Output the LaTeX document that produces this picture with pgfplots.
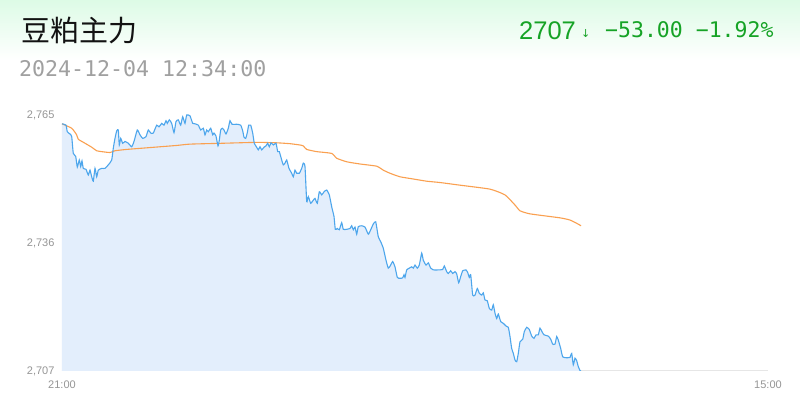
\documentclass[border=0pt]{standalone}
\usepackage{pgfplots}
\usepackage{pgfplotstable}
\pgfplotsset{compat=1.18}
\usepackage{fontspec}
\setmainfont{Liberation Sans}
\newfontfamily\cjk{Noto Sans CJK SC}
\newfontfamily\mono{DejaVu Sans Mono}
\newfontfamily\dejavu{DejaVu Sans}

\definecolor{topgreen}{RGB}{221,251,230}
\definecolor{upgreen}{RGB}{22,163,38}
\definecolor{dategray}{RGB}{160,160,160}
\definecolor{tickgray}{RGB}{150,150,150}
\definecolor{axisgray}{RGB}{230,230,230}
\definecolor{priceblue}{RGB}{77,166,236}
\definecolor{pricefill}{RGB}{227,238,252}
\definecolor{avgorange}{RGB}{250,160,80}

% x = sample index (21:00 = 0, 15:00 = 706), y = price
\pgfplotstableread{
x y
0 2763.0
4 2762.7
5.3 2761.2
8 2760.7
9.7 2760.1
11.3 2756.3
13.7 2755.6
15.3 2753.2
17.3 2754.8
18.7 2753.3
20 2754.6
21.3 2752.9
24 2752.7
26.3 2751.4
28 2752.5
29.7 2751.0
31.3 2750.0
33 2752.9
34.7 2751.0
36.3 2752.5
39.7 2752.9
43 2752.9
46.3 2753.7
49.7 2754.8
51.3 2757.5
53 2759.7
54.7 2761.4
56.3 2761.6
57.3 2758.2
58.7 2759.7
60.7 2758.6
63 2759.0
66.3 2758.6
69.7 2757.8
72 2759.0
75.3 2761.6
78 2760.5
80.7 2759.7
84 2760.1
86.3 2761.6
88.7 2760.9
91.3 2760.9
94.7 2762.7
97 2762.3
99.7 2763.1
102 2762.7
104 2763.7
105.3 2763.1
107.3 2763.9
109.7 2763.1
112 2761.0
114 2763.5
116.3 2763.9
118.7 2762.7
120.7 2764.6
123 2763.1
124.7 2765.0
128 2764.8
130.7 2763.1
133 2763.0
136.3 2762.7
138.7 2761.6
141.3 2762.0
143 2760.5
144.7 2761.6
146.3 2761.2
148.7 2762.0
150.7 2760.5
152 2760.9
154 2760.2
156 2758.0
157.3 2759.3
158.7 2761.6
160.3 2762.0
162 2761.6
164 2760.7
166.3 2762.0
168 2763.7
170 2762.9
174.7 2762.9
178.7 2762.7
180.7 2761.4
182 2760.0
183.7 2759.7
185.3 2761.0
186.7 2762.7
188.7 2762.7
190.7 2760.9
192.3 2758.6
194.7 2757.7
196.3 2757.1
198 2757.8
199.7 2757.1
202 2757.7
204 2758.0
205.7 2758.6
207.3 2757.8
209 2758.7
211.3 2758.2
214 2758.6
215.7 2756.7
217.3 2756.7
219.7 2754.8
221.3 2753.7
223 2754.1
224.7 2754.8
227 2752.9
229.7 2751.8
231.3 2751.0
233 2752.5
234.7 2751.8
237.3 2751.8
239.7 2752.9
241.3 2754.1
243 2753.3
244.7 2745.4
246.3 2746.5
248.7 2745.0
251.3 2745.7
253 2746.1
255.3 2745.0
257.3 2747.6
259.7 2746.9
262 2747.6
264.7 2748.0
267.3 2746.9
269.7 2744.2
272 2742.0
273.3 2739.1
275.3 2739.3
277.3 2739.0
279.7 2740.6
281.3 2739.1
284.7 2739.1
288 2739.3
289.7 2739.9
291.3 2739.0
293 2739.6
294.7 2738.0
296.3 2739.7
299.7 2739.9
303 2739.6
306.3 2738.0
308.7 2739.0
311.3 2740.3
313.7 2740.8
316.3 2737.4
318.7 2736.3
321.3 2734.8
324 2732.1
326.3 2730.3
328.7 2731.0
330.7 2731.8
333 2730.6
335.3 2728.2
338 2728.0
340.7 2728.1
342 2728.8
343 2728.2
344.7 2729.9
347.3 2730.3
349.7 2730.6
351.3 2730.3
353 2731.0
355.3 2730.3
357.3 2731.0
359.7 2733.7
361.3 2732.1
364 2731.0
366.3 2731.5
368.7 2730.3
371.3 2729.9
376.3 2729.9
380.7 2730.0
382.3 2730.8
384.7 2729.5
386.3 2729.1
388.7 2729.7
390.7 2729.1
393 2729.5
394.7 2729.0
396.7 2727.0
398.7 2728.4
400.7 2729.7
404 2729.9
405.7 2729.3
407.3 2728.2
408.7 2728.8
410.7 2724.2
413 2724.2
415.3 2725.7
417.3 2724.6
419.7 2724.2
421.3 2724.7
423 2723.1
425.3 2722.9
427.3 2721.2
429.7 2720.8
431.3 2722.0
433 2720.1
434.7 2718.9
436.3 2719.9
438.7 2718.2
441.3 2717.8
444 2717.2
446.3 2716.9
448 2714.8
449.7 2712.1
451.3 2711.0
453 2709.5
454.7 2709.1
456.3 2711.0
458 2713.6
460.7 2714.2
462.3 2715.9
464.7 2716.9
467.3 2716.4
469.7 2714.9
472 2714.4
474 2715.2
476.3 2715.2
478 2716.7
480 2715.9
482 2715.2
486.3 2714.9
488.7 2714.2
490.7 2713.1
493 2713.1
494.7 2714.8
496.3 2714.0
498.7 2712.1
500.7 2710.2
504.7 2710.0
508 2710.1
509.7 2711.0
511.3 2708.4
513 2709.9
514.7 2709.3
516.3 2708.0
518 2707.1
519 2707.0
}\pricetable

\pgfplotstableread{
x y
0 2763.0
9.7 2762.0
14.7 2760.5
16.3 2759.5
23 2758.6
29.7 2757.7
34.7 2756.9
39.7 2756.7
48 2756.5
53 2756.9
64.7 2757.2
81.3 2757.5
98 2757.8
114.7 2758.1
128 2758.4
161.3 2758.6
194.7 2758.8
214.7 2758.7
228 2758.5
238 2758.2
241.3 2758.0
244.7 2757.2
254.7 2756.7
269.7 2756.3
274.7 2755.2
284.7 2754.4
298 2753.9
314.7 2753.4
321.3 2752.5
328 2751.8
338 2751.0
351.3 2750.5
364.7 2750.0
378 2749.7
398 2749.1
428 2748.2
443 2746.9
453 2744.6
458 2743.3
468 2742.6
498 2741.7
508 2741.2
516 2740.3
519 2739.9
}\avgtable

\begin{document}
\begin{tikzpicture}[x=1pt,y=1pt]
\fill[white] (0,0) rectangle (800,404);
\shade[top color=topgreen, bottom color=white] (0,344) rectangle (800,404);

\node[anchor=base west, inner sep=0pt, text=black!93]
  at (21,362) {\cjk\fontsize{29}{29}\selectfont 豆粕主力};
\node[anchor=base west, inner sep=0pt, text=dategray]
  at (19,327) {\mono\fontsize{21.6}{22}\selectfont 2024-12-04 12:34:00};

\node[anchor=base west, inner sep=0pt, text=upgreen]
  at (519,364) {\fontsize{25.5}{25}\selectfont 2707};
\node[anchor=base west, inner sep=0pt, text=upgreen]
  at (581,366) {\dejavu\fontsize{11}{11}\selectfont ↓};
\node[anchor=base west, inner sep=0pt, text=upgreen]
  at (605,366) {\mono\fontsize{21.5}{22}\selectfont −53.00 −1.92\%};

\begin{axis}[
    at={(62pt,33pt)}, anchor=south west,
    scale only axis, width=706pt, height=256pt,
    xmin=0, xmax=706, ymin=2707, ymax=2765,
    axis x line*=bottom, axis y line*=left,
    x axis line style={draw=axisgray, line width=1pt, -},
    y axis line style={draw=none},
    major tick length=0pt,
    xtick={0,706}, xticklabels={21:00,15:00},
    ytick={2707,2736,2765}, yticklabels={{2,707},{2,736},{2,765}},
    ticklabel style={font=\fontsize{11}{11}\selectfont, text=tickgray},
    yticklabel style={anchor=east, xshift=-4pt},
    xticklabel style={anchor=north, yshift=-6pt},
]
\addplot[draw=none, fill=pricefill, smooth, tension=0.3] table {\pricetable} \closedcycle;
\addplot[avgorange, line width=1.1pt, smooth, tension=0.3] table {\avgtable};
\addplot[priceblue, line width=1.1pt, smooth, tension=0.3] table {\pricetable};
\end{axis}
\end{tikzpicture}
\end{document}
